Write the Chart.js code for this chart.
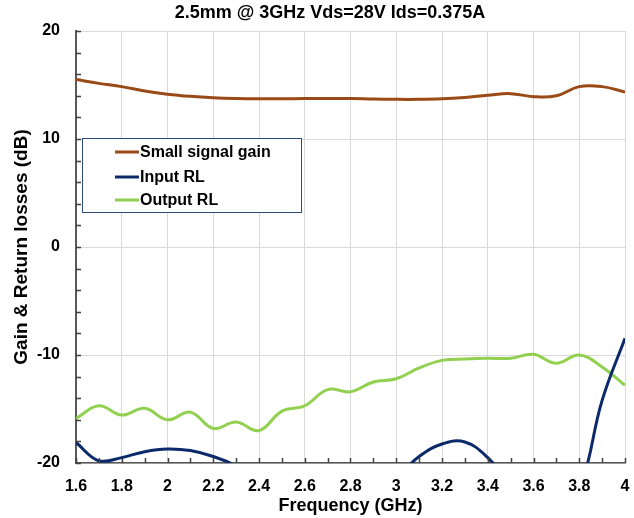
<!DOCTYPE html>
<html lang="en">

<head>
    <title>2.5mm @ 3GHz</title>
    <meta charset="utf-8" />
    <script src="https://cdn.jsdelivr.net/npm/chart.js"></script>
    <style>
        body { margin: 0; background: #fff; }
    </style>
</head>

<body>
    <canvas id="myChart" width="634" height="518"></canvas>
    <script>
        // data
        var freq = [1.6, 1.7, 1.8, 1.9, 2.0, 2.1, 2.2, 2.3, 2.4, 2.5, 2.6, 2.7, 2.8, 2.9,
            3.0, 3.1, 3.2, 3.3, 3.4, 3.5, 3.6, 3.7, 3.8, 3.9, 4.0];
        var gain = [15.5, 15.15, 14.85, 14.45, 14.15, 13.95, 13.82, 13.75, 13.72, 13.72, 13.74, 13.75, 13.75, 13.7,
            13.67, 13.67, 13.72, 13.85, 14.05, 14.2, 13.92, 14.0, 14.85, 14.85, 14.35];
        var inputRL = [-18.1, -19.8, -19.5, -18.95, -18.7, -18.85, -19.4, -20.3, -22, -23.5, -24.5, -24.5, -23.5, -22.3,
            -21.3, -19.4, -18.24, -18.05, -19.5, -22, -24, -25, -22.5, -14.2, -8.45];
        var outputRL = [-15.87, -14.7, -15.56, -14.94, -16.0, -15.3, -16.8, -16.2, -17.0, -15.2, -14.7, -13.2, -13.4, -12.5,
            -12.2, -11.2, -10.5, -10.37, -10.3, -10.3, -9.94, -10.77, -10.0, -11.1, -12.8];
        var xTicks = [1.6, 1.8, 2, 2.2, 2.4, 2.6, 2.8, 3, 3.2, 3.4, 3.6, 3.8, 4];
        var yTicks = [-20, -10, 0, 10, 20];

        var seriesNames = ['Small signal gain', 'Input RL', 'Output RL'];
        var seriesColors = ['#9a4a16', '#0c2a6a', '#92d050'];
        var seriesValues = [gain, inputRL, outputRL];

        var FONT = '"Liberation Sans", Arial, sans-serif';

        function toPoints(values) {
            return freq.map(function (f, i) { return { x: f, y: values[i] }; });
        }

        // title, inner tick marks and the boxed legend
        var decorations = {
            id: 'decorations',
            afterDraw: function (chart) {
                var ctx = chart.ctx;
                var xs = chart.scales.x, ys = chart.scales.y;
                var area = chart.chartArea;
                ctx.save();

                // minor tick marks inside the plot
                ctx.strokeStyle = '#404040';
                ctx.lineWidth = 1.5;
                ctx.beginPath();
                for (var v = -20; v <= 20; v += 2) {
                    var py = Math.round(ys.getPixelForValue(v)) + 0.5;
                    ctx.moveTo(area.left, py);
                    ctx.lineTo(area.left + 5, py);
                }
                for (var k = 16; k <= 40; k++) {
                    var px = Math.round(xs.getPixelForValue(k / 10)) + 0.5;
                    ctx.moveTo(px, area.bottom);
                    ctx.lineTo(px, area.bottom - 5);
                }
                ctx.stroke();

                // title
                ctx.fillStyle = '#000';
                ctx.font = 'bold 18px ' + FONT;
                ctx.textAlign = 'center';
                ctx.textBaseline = 'middle';
                ctx.fillText('2.5mm @ 3GHz Vds=28V Ids=0.375A', 330, 13);

                // legend
                ctx.fillStyle = '#fff';
                ctx.fillRect(82, 138, 219, 74);
                ctx.strokeStyle = '#2f4b7c';
                ctx.lineWidth = 1;
                ctx.strokeRect(82.5, 138.5, 219, 74);
                var rows = [152, 177, 200];
                ctx.font = 'bold 16px ' + FONT;
                ctx.textAlign = 'left';
                for (var i = 0; i < seriesNames.length; i++) {
                    ctx.strokeStyle = seriesColors[i];
                    ctx.lineWidth = 3;
                    ctx.beginPath();
                    ctx.moveTo(115, rows[i]);
                    ctx.lineTo(139, rows[i]);
                    ctx.stroke();
                    ctx.fillStyle = '#000';
                    ctx.fillText(seriesNames[i], 140, rows[i] + 1);
                }
                ctx.restore();
            }
        };

        var datasets = seriesNames.map(function (name, i) {
            return {
                label: name,
                data: toPoints(seriesValues[i]),
                borderColor: seriesColors[i],
                borderWidth: 3,
                pointRadius: 0,
                fill: false,
                tension: 0.4
            };
        });

        new Chart(document.getElementById('myChart'), {
            type: 'line',
            data: { datasets: datasets },
            plugins: [decorations],
            options: {
                responsive: false,
                animation: false,
                layout: { padding: { top: 31, right: 9, left: 0, bottom: 0 } },
                plugins: {
                    legend: { display: false },
                    title: { display: false },
                    tooltip: { enabled: false }
                },
                scales: {
                    x: {
                        type: 'linear',
                        min: 1.6,
                        max: 4,
                        afterFit: function (scale) {
                            scale.height = 55;
                            scale.paddingLeft = 0;
                            scale.paddingRight = 0;
                        },
                        afterBuildTicks: function (scale) {
                            scale.ticks = xTicks.map(function (v) { return { value: v }; });
                        },
                        ticks: {
                            color: '#000',
                            font: { family: FONT, size: 16, weight: 'bold' },
                            padding: 14,
                            maxRotation: 0,
                            autoSkip: false,
                            callback: function (v) { return String(Math.round(v * 10) / 10); }
                        },
                        grid: { color: '#d9d9d9', lineWidth: 1, drawTicks: false },
                        border: { color: '#595959', width: 1.5 },
                        title: {
                            display: true,
                            text: 'Frequency (GHz)',
                            color: '#000',
                            font: { family: FONT, size: 18, weight: 'bold' },
                            padding: { top: 0, bottom: 1 }
                        }
                    },
                    y: {
                        min: -20,
                        max: 20,
                        afterFit: function (scale) { scale.width = 76; },
                        afterBuildTicks: function (scale) {
                            scale.ticks = yTicks.map(function (v) { return { value: v }; });
                        },
                        ticks: {
                            color: '#000',
                            font: { family: FONT, size: 16, weight: 'bold' },
                            padding: 16
                        },
                        grid: { color: '#d9d9d9', lineWidth: 1, drawTicks: false },
                        border: { color: '#595959', width: 2 },
                        title: {
                            display: true,
                            text: 'Gain & Return losses (dB)',
                            color: '#000',
                            font: { family: FONT, size: 19, weight: 'bold' },
                            padding: { top: 10, bottom: 0 }
                        }
                    }
                }
            }
        });
    </script>
</body>

</html>
